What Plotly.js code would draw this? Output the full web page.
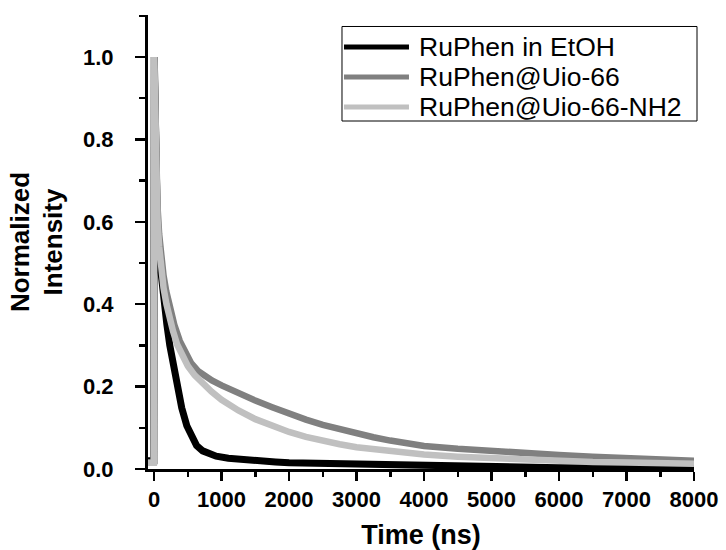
<!DOCTYPE html>
<html>
<head>
<meta charset="utf-8">
<script src="https://cdn.plot.ly/plotly-3.0.1.min.js"></script>
<style>html,body{margin:0;padding:0;background:#fff;}#chart{width:726px;height:550px;}</style>
</head>
<body>
<div id="chart"></div>
<script>
// Series names
const seriesNames = ["RuPhen in EtOH", "RuPhen@Uio-66", "RuPhen@Uio-66-NH2"];

// RuPhen in EtOH (black)
const timeEtOH = [-90, -4, 3, 15, 30, 50, 87, 120, 146, 190, 233, 285, 340, 410, 485, 560, 630, 720, 820, 920, 1100, 1260, 1500, 1800, 2000, 2250, 2500, 2750, 3000, 3250, 3500, 3750, 4000, 4500, 5000, 5500, 6000, 6500, 7000, 7500, 8000];
const valEtOH  = [0.02, 0.02, 1.0, 0.8, 0.67, 0.58, 0.5, 0.445, 0.405, 0.35, 0.3, 0.25, 0.2, 0.148, 0.105, 0.075, 0.057, 0.044, 0.036, 0.031, 0.026, 0.023, 0.02, 0.017, 0.015, 0.014, 0.013, 0.012, 0.011, 0.010, 0.009, 0.008, 0.007, 0.005, 0.004, 0.004, 0.003, 0.003, 0.002, 0.002, 0.002];

// RuPhen@Uio-66 (dark grey)
const timeUio = [-90, -4, 3, 15, 30, 50, 75, 100, 140, 180, 218, 260, 300, 381, 450, 550, 650, 750, 857, 1000, 1200, 1500, 1750, 2000, 2250, 2500, 2750, 3000, 3250, 3500, 3750, 4000, 4500, 5000, 5500, 6000, 6500, 7000, 7500, 8000];
const valUio  = [0.015, 0.015, 1.0, 0.85, 0.73, 0.64, 0.57, 0.52, 0.47, 0.432, 0.402, 0.373, 0.35, 0.311, 0.285, 0.257, 0.238, 0.226, 0.215, 0.203, 0.187, 0.166, 0.15, 0.134, 0.12, 0.107, 0.096, 0.086, 0.077, 0.069, 0.062, 0.056, 0.049, 0.043, 0.038, 0.034, 0.03, 0.027, 0.023, 0.02];

// RuPhen@Uio-66-NH2 (light grey)
const timeNH2 = [-90, -4, 3, 15, 30, 50, 75, 100, 140, 184, 230, 280, 340, 420, 500, 600, 700, 850, 1000, 1250, 1500, 1750, 2000, 2250, 2500, 2750, 3000, 3500, 4000, 4500, 5000, 5500, 6000, 6500, 7000, 7500, 8000];
const valNH2  = [0.015, 0.015, 1.0, 0.83, 0.7, 0.61, 0.54, 0.49, 0.44, 0.4, 0.365, 0.335, 0.303, 0.272, 0.25, 0.228, 0.21, 0.188, 0.168, 0.142, 0.121, 0.104, 0.09, 0.078, 0.068, 0.06, 0.053, 0.043, 0.035, 0.03, 0.026, 0.022, 0.019, 0.017, 0.016, 0.014, 0.013];

// Tick labels
const xTicks = [0, 1000, 2000, 3000, 4000, 5000, 6000, 7000, 8000];
const yTicks = [0.0, 0.2, 0.4, 0.6, 0.8, 1.0];
const yTickText = ["0.0", "0.2", "0.4", "0.6", "0.8", "1.0"];

const colors = ["#000000", "#808080", "#c0c0c0"];
const widths = [7, 6.5, 6.5];

const traces = [
  {x: timeEtOH, y: valEtOH, name: seriesNames[0], mode: "lines", line: {color: colors[0], width: widths[0]}},
  {x: timeUio, y: valUio, name: seriesNames[1], mode: "lines", line: {color: colors[1], width: widths[1]}},
  {x: timeNH2, y: valNH2, name: seriesNames[2], mode: "lines", line: {color: colors[2], width: widths[2]}}
];

const fam = "Liberation Sans, Arial, sans-serif";
const tickFont = {family: fam, size: 22, color: "#000", weight: "bold"};
const xTitleFont = {family: fam, size: 27, color: "#000", weight: "bold"};
const yTitleFont = {family: fam, size: 26, color: "#000", weight: "bold"};

// Hand-built legend (paper coordinates) so that row spacing matches the reference
const legBox = {x0: 0.3553, x1: 1.0055, y0: 0.7665, y1: 0.9747};
const legRows = [0.9295, 0.8634, 0.7974];
const legLineX = [0.359, 0.478];
const legTextX = 0.4927;

const shapes = [{type: "rect", xref: "paper", yref: "paper", x0: legBox.x0, x1: legBox.x1, y0: legBox.y0, y1: legBox.y1,
  line: {color: "#000", width: 1}, fillcolor: "rgba(255,255,255,0)", layer: "above"}];
const annotations = [];
seriesNames.forEach((nm, i) => {
  shapes.push({type: "line", xref: "paper", yref: "paper", x0: legLineX[0], x1: legLineX[1], y0: legRows[i], y1: legRows[i],
    line: {color: colors[i], width: 5}, layer: "above"});
  annotations.push({xref: "paper", yref: "paper", x: legTextX, y: legRows[i], xanchor: "left", yanchor: "middle",
    text: nm, showarrow: false, font: {family: fam, size: 26.5, color: "#000"}});
});

const layout = {
  width: 726, height: 550,
  margin: {l: 148, r: 32, t: 15, b: 81},
  paper_bgcolor: "#fff", plot_bgcolor: "#fff",
  showlegend: false,
  shapes: shapes,
  annotations: annotations,
  xaxis: {
    range: [-90, 8000],
    tickvals: xTicks, ticktext: xTicks.map(String),
    ticks: "outside", ticklen: 9, tickwidth: 2.5, tickcolor: "#000",
    minor: {dtick: 500, tick0: 0, ticks: "outside", ticklen: 5, tickwidth: 2.5, tickcolor: "#000"},
    showline: true, linewidth: 3, linecolor: "#000",
    showgrid: false, zeroline: false,
    tickfont: tickFont,
    title: {text: "Time (ns)", font: xTitleFont, standoff: 14}
  },
  yaxis: {
    range: [0, 1.102],
    tickvals: yTicks, ticktext: yTickText,
    ticks: "outside", ticklen: 10, tickwidth: 2.5, tickcolor: "#000",
    minor: {dtick: 0.1, tick0: 0, ticks: "outside", ticklen: 6, tickwidth: 2.5, tickcolor: "#000"},
    showline: true, linewidth: 3, linecolor: "#000",
    showgrid: false, zeroline: false,
    tickfont: tickFont, ticklabelstandoff: 17,
    title: {text: "Normalized<br>Intensity", font: yTitleFont, standoff: 13}
  }
};

Plotly.newPlot("chart", traces, layout, {staticPlot: true, displayModeBar: false});
</script>
</body>
</html>
